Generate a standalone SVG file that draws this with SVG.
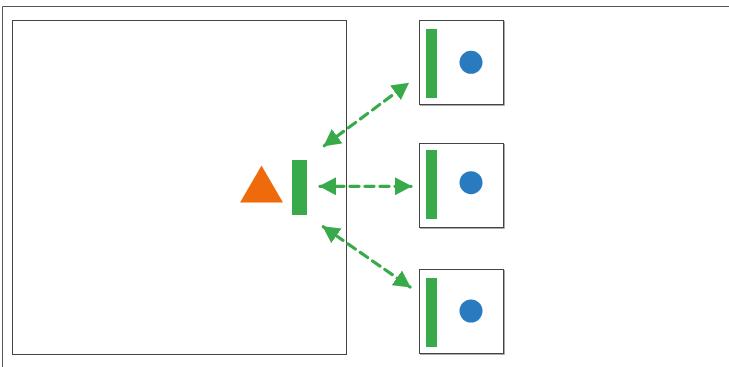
<svg xmlns="http://www.w3.org/2000/svg" width="729" height="367" viewBox="0 0 729 367">
<style>
.frame{fill:none;stroke:#555;stroke-width:1}
.box{fill:#fff;stroke:#444;stroke-width:1}
.shadow{fill:none;stroke:#aaa;stroke-width:1}
.bar{fill:#39AA4A}
.dot{fill:#2A7ABF}
.conn{stroke:#39AA4A;stroke-width:3.2;stroke-dasharray:9 6;fill:none;stroke-linecap:round}
</style>
<defs>
<marker id="ah" viewBox="0 0 17 18" refX="16" refY="9" markerWidth="17" markerHeight="18" markerUnits="userSpaceOnUse" orient="auto-start-reverse">
<path d="M0,0 L17,9 L0,18 Z" fill="#39AA4A"/>
</marker>
</defs>
<rect width="729" height="367" fill="#fff"/>
<path class="frame" d="M2.5,367 V6.5 H729"/>
<g id="main">
<rect class="box" x="12.5" y="20.5" width="334" height="334"/>
<polygon id="triangle" points="261.5,165.5 283,202.5 240,202.5" fill="#EE6A0A"/>
<rect class="bar" x="292" y="160" width="15" height="55"/>
</g>
<g id="node1">
<path class="shadow" d="M504.5,21 V105.5 H420"/>
<rect class="box" x="419.5" y="20.5" width="84" height="84"/>
<rect class="bar" x="426" y="29" width="11" height="69"/>
<circle class="dot" cx="471" cy="62.3" r="11.5"/>
</g>
<g id="node2">
<path class="shadow" d="M504.5,144 V228.5 H420"/>
<rect class="box" x="419.5" y="143.5" width="84" height="84"/>
<rect class="bar" x="426" y="150" width="11" height="69"/>
<circle class="dot" cx="471" cy="182.7" r="11.5"/>
</g>
<g id="node3">
<path class="shadow" d="M504.5,270 V354.5 H420"/>
<rect class="box" x="419.5" y="269.5" width="84" height="84"/>
<rect class="bar" x="426" y="278" width="11" height="69"/>
<circle class="dot" cx="471" cy="311" r="11.5"/>
</g>
<g id="connectors">
<line class="conn" x1="324.3" y1="145.7" x2="408.3" y2="83.3" marker-start="url(#ah)" marker-end="url(#ah)"/>
<line class="conn" x1="320" y1="186.3" x2="411" y2="186.3" marker-start="url(#ah)" marker-end="url(#ah)"/>
<line class="conn" x1="323.3" y1="226.7" x2="410" y2="287" marker-start="url(#ah)" marker-end="url(#ah)"/>
</g>
</svg>
